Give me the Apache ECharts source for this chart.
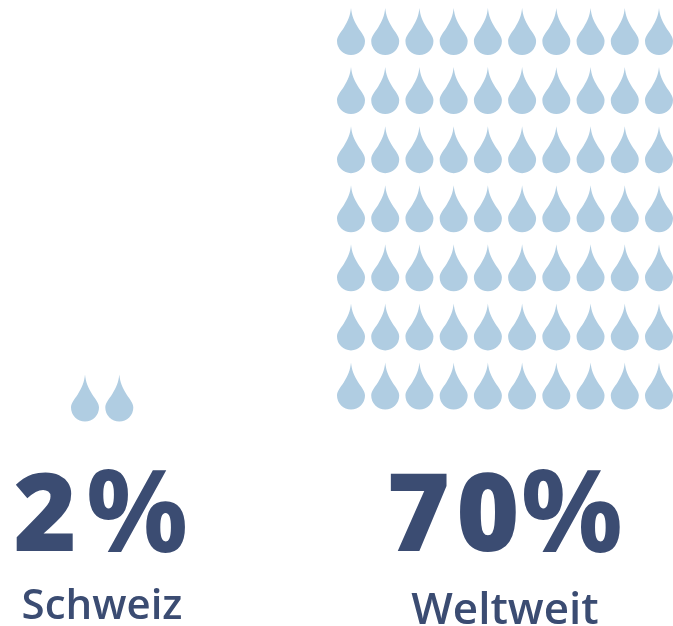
<!DOCTYPE html>
<html><head><meta charset="utf-8">
<style>html,body{margin:0;padding:0;background:#fff}#c{width:673px;height:626px}</style>
<script src="https://cdn.jsdelivr.net/npm/echarts@6/dist/echarts.min.js"></script>
</head><body><div id="c"></div>
<script>
const categories = ['Schweiz', 'Weltweit'];
const percentValues = [2, 70];
const dropsPerRow = [2, 10];

const dropPath = 'path://M14 0C14.8 8 17 13 21 19.5C25 25.5 28 29 28 33A14 14 0 0 1 0 33C0 29 3 25.5 7 19.5C11 13 13.2 8 14 0Z';
const dropColor = '#b0cde2';
const textColor = '#3b4c72';
const font = '"Open Sans", sans-serif';

function cells(count, perRow) {
  const out = [];
  for (let i = 0; i < count; i++) out.push([i % perRow, Math.floor(i / perRow)]);
  return out;
}
const grids = [
  { left: 85, top: 339, width: 34.3, height: 59 },
  { left: 351, top: 31.5, width: 308, height: 354.5 }
];
const rowsMax = [1, 6];
const digit = { fontFamily: font, fontWeight: 800, fontSize: 108, color: textColor };
const rich = {
  g: Object.assign({}, digit, { padding: [0, 9, 0, 0] }),
  s: Object.assign({}, digit, { padding: [0, 6, 0, 0] }),
  z: Object.assign({}, digit, { padding: [0, 1, 0, 0] }),
  p: Object.assign({}, digit, { fontWeight: 700, fontSize: 114 })
};
const option = {
  animation: false,
  backgroundColor: '#fff',
  grid: grids,
  xAxis: grids.map((g, i) => ({ type: 'value', gridIndex: i, show: false, min: 0, max: dropsPerRow[i] - 1 })),
  yAxis: grids.map((g, i) => ({ type: 'value', gridIndex: i, show: false, min: 0, max: rowsMax[i] })),
  series: categories.map((c, i) => ({
    name: c, type: 'scatter', xAxisIndex: i, yAxisIndex: i, clip: false,
    symbol: dropPath, symbolSize: [28, 47], symbolKeepAspect: false,
    itemStyle: { color: dropColor, opacity: 1 },
    data: cells(percentValues[i], dropsPerRow[i])
  })),
  title: [
    { text: '{g|' + percentValues[0] + '}{p|%}', left: 101, top: 463, padding: 0, textAlign: 'center', textStyle: { rich } },
    { text: '{s|7}{z|0}{p|%}', left: 505, top: 463, padding: 0, textAlign: 'center', textStyle: { rich } },
    { text: categories[0], left: 102, top: 586, padding: 0, textAlign: 'center', textStyle: { fontFamily: font, fontWeight: 600, fontSize: 42, color: textColor } },
    { text: categories[1], left: 505, top: 589, padding: 0, textAlign: 'center', textStyle: { fontFamily: font, fontWeight: 600, fontSize: 44, color: textColor } }
  ]
};
echarts.init(document.getElementById('c'), null, { renderer: 'canvas' }).setOption(option);
</script></body></html>
